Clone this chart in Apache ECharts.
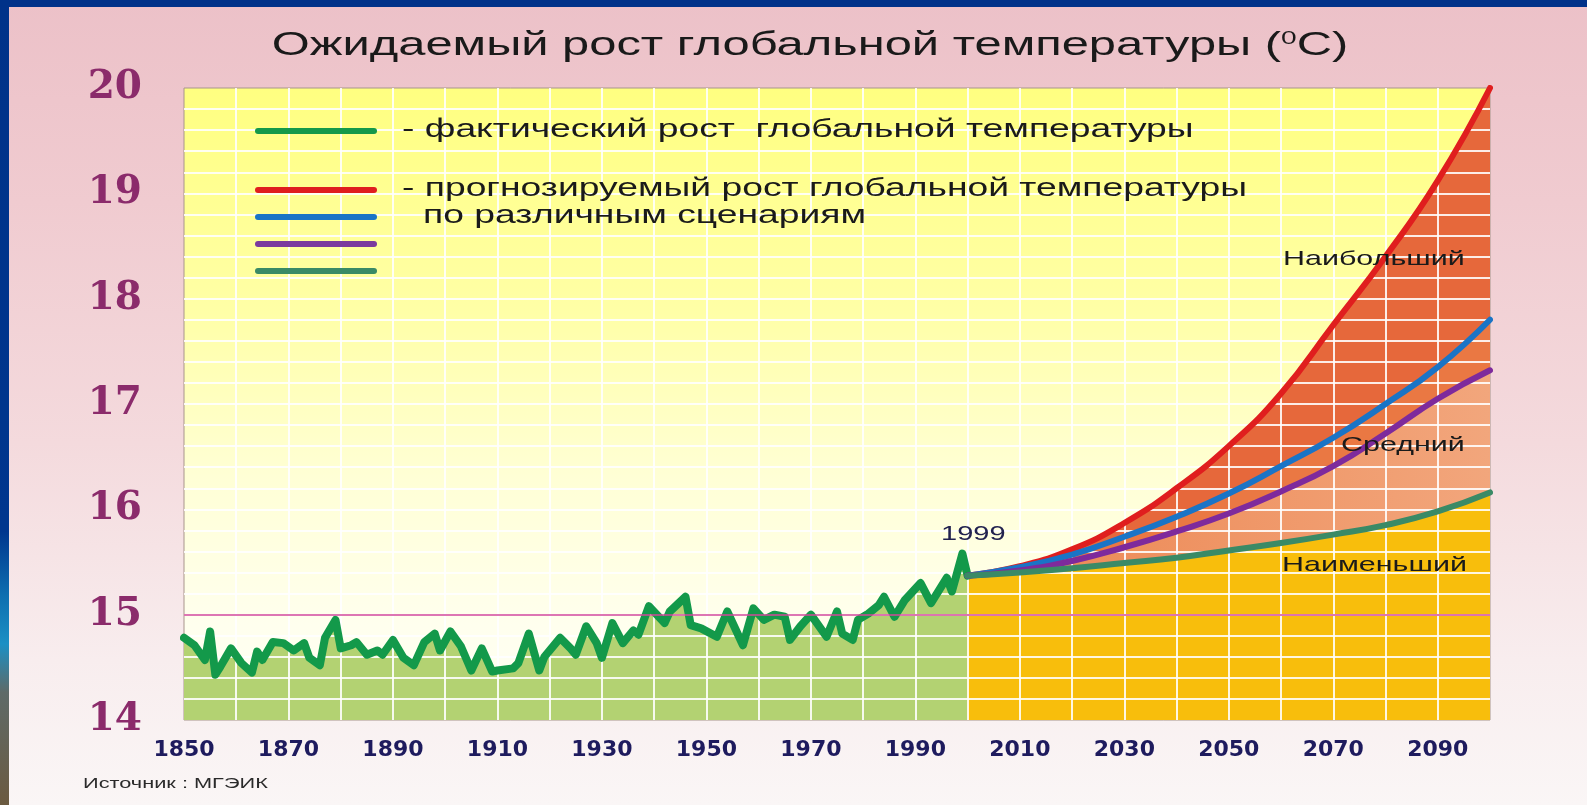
<!DOCTYPE html>
<html><head><meta charset="utf-8">
<script src="https://cdn.jsdelivr.net/npm/echarts@6/dist/echarts.min.js"></script>
<style>
html,body{margin:0;padding:0;width:1587px;height:805px;overflow:hidden;}
#bg{position:absolute;left:0;top:0;width:1587px;height:805px;background:linear-gradient(to bottom,#ECC1C8 0%,#F0CBD0 25%,#F4DADD 55%,#F8EDEE 82%,#FAF6F6 100%);}
#topbar{position:absolute;left:0;top:0;width:1587px;height:7px;background:#003289;}
#leftbar{position:absolute;left:0;top:0;width:9px;height:805px;background:linear-gradient(to bottom,#003289 0%,#00368E 66%,#0E6FB0 74%,#1C90C4 80%,#5E6A68 86%,#6B5A40 100%);}
#chart{position:absolute;left:0;top:0;width:1587px;height:805px;}
</style></head>
<body>
<div id="bg"></div><div id="topbar"></div><div id="leftbar"></div>
<div id="chart"></div>
<script>
// ---- data ----
const histYears = [1850,1852,1854,1855,1856,1857,1859,1861,1863,1864,1865,1867,1869,1871,1873,1874,1876,1877,1879,1880,1882,1883,1885,1887,1888,1890,1892,1894,1896,1898,1899,1901,1903,1905,1907,1909,1910,1913,1914,1916,1918,1919,1922,1924,1925,1927,1929,1930,1932,1934,1936,1937,1939,1942,1943,1946,1947,1949,1952,1954,1957,1959,1961,1963,1965,1966,1968,1970,1973,1975,1976,1978,1979,1981,1983,1984,1986,1988,1991,1993,1996,1997,1999,2000];
const histTemps = [14.78,14.71,14.57,14.84,14.43,14.51,14.68,14.54,14.45,14.65,14.57,14.74,14.73,14.66,14.73,14.59,14.52,14.78,14.95,14.68,14.71,14.74,14.62,14.66,14.62,14.76,14.59,14.52,14.74,14.82,14.66,14.84,14.70,14.47,14.68,14.46,14.47,14.49,14.54,14.82,14.47,14.60,14.78,14.68,14.62,14.89,14.73,14.59,14.92,14.73,14.85,14.81,15.08,14.92,15.03,15.17,14.90,14.87,14.79,15.03,14.71,15.06,14.95,15.00,14.98,14.76,14.89,15.00,14.79,15.03,14.82,14.76,14.95,15.01,15.09,15.17,14.98,15.14,15.30,15.11,15.35,15.22,15.58,15.37];
const projYears = [2000,2010,2020,2030,2040,2050,2060,2070,2080,2090,2100];
const projHighest = [15.37,15.46,15.62,15.87,16.20,16.60,17.10,17.75,18.40,19.12,20.00];
const projHigh    = [15.37,15.45,15.57,15.74,15.93,16.15,16.41,16.68,17.00,17.35,17.80];
const projMedium  = [15.37,15.42,15.51,15.64,15.79,15.96,16.17,16.41,16.72,17.05,17.32];
const projLowest  = [15.37,15.40,15.44,15.49,15.54,15.61,15.68,15.76,15.85,15.98,16.16];
const baseline = 15;
const yTickLabels = [14,15,16,17,18,19,20];
const xTickLabels = [1850,1870,1890,1910,1930,1950,1970,1990,2010,2030,2050,2070,2090];

const zip = (xs, ys) => xs.map((x, i) => [x, ys[i]]);
const G = echarts.graphic;

const chart = echarts.init(document.getElementById('chart'), null, {renderer: 'canvas'});

function areaSeries(name, data, fill, smooth) {
  return {name, type: 'line', data, smooth, showSymbol: false, silent: true, z: 1,
    lineStyle: {width: 0, opacity: 0}, areaStyle: {color: fill, opacity: 1}};
}
function lineSeries(name, data, color, width, smooth) {
  return {name, type: 'line', data, smooth, showSymbol: false, silent: true, z: 4,
    lineStyle: {color, width, cap: 'round', join: 'round'}};
}

const splitStyle = {color: 'rgba(255,255,255,0.88)', width: 2};
const txt = (text, x, y, size, extra) => Object.assign({
  type: 'text', x, y, scaleX: 1.45, silent: true, z: 10,
  style: {text, fill: '#1a1a1a', fontFamily: 'Liberation Sans', fontSize: size,
    textAlign: 'left', verticalAlign: 'middle'}
}, extra || {});

const legendLines = [
  ['#14994A', 131], ['#E01E1E', 190], ['#1A74C6', 217], ['#7B3A9E', 244], ['#3A8A66', 271]
];

chart.setOption({
  backgroundColor: 'transparent',
  animation: false,
  grid: {left: 184, right: 97, top: 88, bottom: 85, show: true,
    backgroundColor: new G.LinearGradient(0, 0, 0, 1, [
      {offset: 0, color: '#FFFF80'}, {offset: 0.35, color: '#FFFFA6'},
      {offset: 0.62, color: '#FFFFD6'}, {offset: 0.85, color: '#FFFFEE'}, {offset: 1, color: '#FFFFF4'}]),
    borderColor: '#A8958C', borderWidth: 1},
  xAxis: {type: 'value', min: 1850, max: 2100, interval: 10, z: 2,
    axisLine: {show: false}, axisTick: {show: false},
    splitLine: {show: true, showMinLine: false, showMaxLine: false, lineStyle: splitStyle},
    axisLabel: {formatter: v => xTickLabels.indexOf(v) >= 0 ? String(v) : '',
      fontFamily: 'DejaVu Sans', fontWeight: 'bold', fontSize: 22, color: '#1E1B5E', margin: 19}},
  yAxis: {type: 'value', min: 14, max: 20, interval: 1, z: 2,
    axisLine: {show: false}, axisTick: {show: false},
    splitLine: {show: true, showMinLine: false, showMaxLine: false, lineStyle: splitStyle},
    minorTick: {show: false, splitNumber: 5},
    minorSplitLine: {show: true, lineStyle: splitStyle},
    axisLabel: {formatter: v => yTickLabels.indexOf(v) >= 0 ? String(v) : '',
      fontFamily: 'DejaVu Serif', fontWeight: 'bold', fontSize: 39, color: '#8B2B6B', margin: 42,
      padding: [16, 0, 0, 0]}},
  series: [
    areaSeries('histArea', zip(histYears, histTemps), '#B3D272', false),
    areaSeries('hiArea', zip(projYears, projHighest), '#E6683B', true),
    areaSeries('hArea', zip(projYears, projHigh), '#EA7843', true),
    areaSeries('mArea', zip(projYears, projMedium), new G.LinearGradient(0, 0, 1, 0, [
      {offset: 0, color: '#EC8550'}, {offset: 1, color: '#F2A67C'}]), true),
    areaSeries('loArea', zip(projYears, projLowest), '#F8BE0C', true),
    {name: 'ref', type: 'line', data: [], z: 3, silent: true,
      markLine: {symbol: 'none', silent: true, label: {show: false},
        lineStyle: {color: '#D2489A', width: 1.5, type: 'solid'}, data: [{yAxis: baseline}]}},
    lineSeries('Фактический', zip(histYears, histTemps), '#13994A', 8, false),
    lineSeries('Наибольший', zip(projYears, projHighest), '#E01E1E', 6, true),
    lineSeries('Высокий', zip(projYears, projHigh), '#1A74C6', 6, true),
    lineSeries('Средний', zip(projYears, projMedium), '#7E2A9C', 6, true),
    lineSeries('Наименьший', zip(projYears, projLowest), '#3A8A66', 6, true)
  ],
  graphic: [
    {type: 'text', x: 810, y: 46, scaleX: 1.48, silent: true, z: 10,
      style: {text: 'Ожидаемый рост глобальной температуры ({s|0}C)', fill: '#1a1a1a',
        fontFamily: 'Liberation Sans', fontSize: 33, textAlign: 'center', verticalAlign: 'middle',
        rich: {s: {fontSize: 19, fontFamily: 'Liberation Sans', fill: '#1a1a1a', verticalAlign: 'top', lineHeight: 33}}}},
    ...legendLines.map(([c, y]) => ({type: 'line', silent: true, z: 10,
      shape: {x1: 258, y1: y, x2: 374, y2: y}, style: {stroke: c, lineWidth: 6, lineCap: 'round'}})),
    txt('- фактический рост  глобальной температуры', 402, 130, 25, {scaleX: 1.49}),
    txt('- прогнозируемый рост глобальной температуры', 402, 189, 25, {scaleX: 1.49}),
    txt('по различным сценариям', 423, 216, 25, {scaleX: 1.49}),
    txt('Наибольший', 1283, 259, 21),
    txt('Средний', 1341, 445, 21),
    txt('Наименьший', 1282, 565, 21),
    txt('1999', 941, 534, 20, {style: {text: '1999', fill: '#22224F', fontFamily: 'Liberation Sans', fontSize: 20, textAlign: 'left', verticalAlign: 'middle'}}),
    txt('Источник : МГЭИК', 83, 784, 15, {style: {text: 'Источник : МГЭИК', fill: '#2a2a2a', fontFamily: 'Liberation Sans', fontSize: 15, textAlign: 'left', verticalAlign: 'middle'}})
  ]
});
</script>
</body></html>
